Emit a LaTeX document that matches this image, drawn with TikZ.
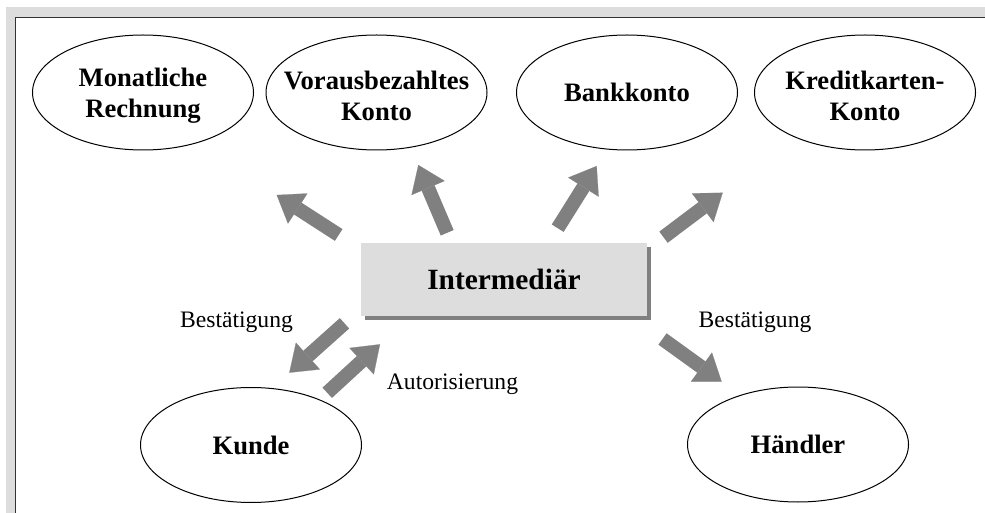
\documentclass[tikz,border=0pt]{standalone}
\usepackage{fontspec}
\setmainfont{Liberation Serif}
\definecolor{framegray}{RGB}{221, 221, 221}
\definecolor{frameline}{RGB}{51, 51, 51}
\definecolor{boxfill}{RGB}{221, 221, 221}
\definecolor{arrowgray}{RGB}{128, 128, 128}
\usetikzlibrary{shapes.geometric, arrows.meta, shadows}
\tikzset{
    payoval/.style={ellipse, draw, line width=.5pt, minimum width=110.5pt,
        minimum height=57.5pt, inner sep=0pt},
    ovaltext/.style={inner sep=0pt, align=center,
        font=\fontsize{13.3}{15.5}\selectfont\bfseries},
    interbox/.style={rectangle, fill=boxfill, minimum width=143pt,
        minimum height=36.5pt, font=\fontsize{14.7}{17}\selectfont\bfseries,
        drop shadow={shadow xshift=2pt, shadow yshift=-2pt,
            fill=arrowgray, opacity=1}},
    flowarrow/.style={draw=arrowgray, line width=7pt,
        -{Triangle[width=18pt, length=12.5pt, line width=.1pt]}},
    flowlabel/.style={font=\fontsize{11.8}{14}\selectfont, inner sep=0pt},
}

\begin{document}
\begin{tikzpicture}[x=.5pt, y=-.5pt]
    \useasboundingbox (0, 0) rectangle (985, 513);
    % frame
    \fill[framegray] (6, 7) rectangle (985, 17);
    \fill[framegray] (6, 7) rectangle (15, 513);
    \draw[frameline, line width=.8pt] (15.5, 513) -- (15.5, 17.5) -- (985, 17.5);

    \node[payoval] (monat) at (143, 92.5) {};
    \node[payoval] (voraus) at (376.5, 92.5) {};
    \node[payoval] (bank) at (627, 92.5) {};
    \node[payoval] (kredit) at (865, 92.5) {};
    \node[payoval] (kunde) at (251, 445) {};
    \node[payoval] (haendler) at (798, 444.5) {};
    \node[ovaltext] (monat-t) at ([yshift=-1.5pt]monat) {Monatliche\\Rechnung};
    \node[ovaltext] (voraus-t) at ([yshift=-1.5pt]voraus) {Vorausbezahltes\\Konto};
    \node[ovaltext] (bank-t) at (bank) {Bankkonto};
    \node[ovaltext] (kredit-t) at ([yshift=-1.5pt]kredit) {Kreditkarten-\\Konto};
    \node[ovaltext] (kunde-t) at (kunde) {Kunde};
    \node[ovaltext] (haendler-t) at (haendler) {Händler};
    \node[interbox] (inter) at (504, 279.5) {Intermediär};

    % arrow ends
    \coordinate (t1) at (338.7, 235);   \coordinate (h1) at (276.7, 195);
    \coordinate (t2) at (447.2, 232.8); \coordinate (h2) at (418.3, 165);
    \coordinate (t3) at (557.7, 228.2); \coordinate (h3) at (596.7, 166);
    \coordinate (t4) at (663.5, 237.2); \coordinate (h4) at (722.7, 192.7);
    \coordinate (t5) at (344.5, 323.3); \coordinate (h5) at (289.3, 372.7);
    \coordinate (t6) at (327.2, 392.8); \coordinate (h6) at (380, 344.3);
    \coordinate (t7) at (662.5, 339);   \coordinate (h7) at (721.7, 381.7);
    \foreach \n in {1, ..., 7}
        \draw[flowarrow] (t\n) -- (h\n);

    \node[flowlabel] (bestl) at (236.5, 322) {Bestätigung};
    \node[flowlabel] (autor) at (452.5, 384) {Autorisierung};
    \node[flowlabel] (bestr) at (755, 322) {Bestätigung};
\end{tikzpicture}
\end{document}
